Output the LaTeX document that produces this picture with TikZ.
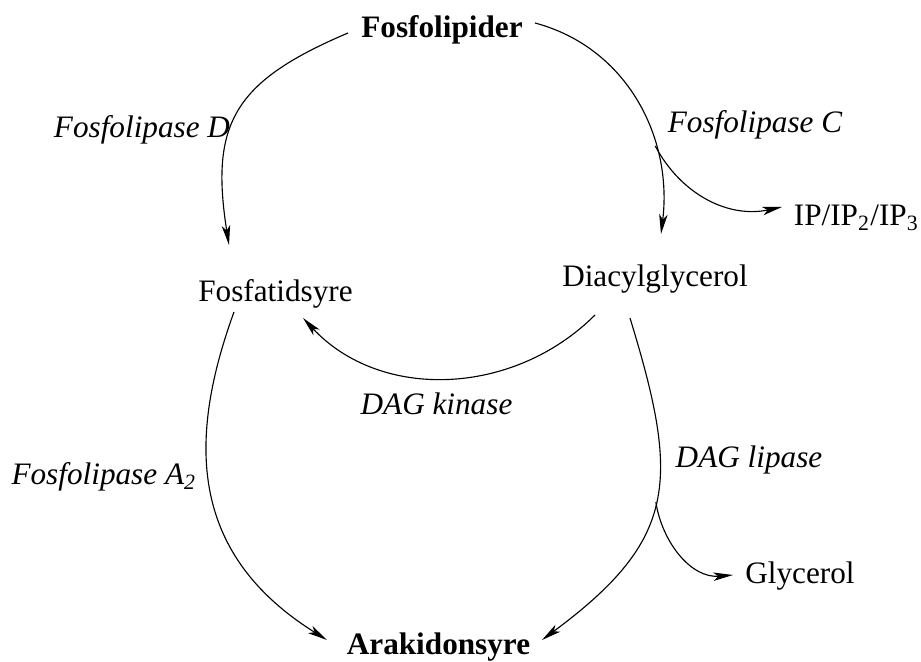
\documentclass[tikz,border=0pt]{standalone}
\usepackage{fontspec}
\setmainfont{Liberation Serif}
\usepackage{tikz}
\usetikzlibrary{arrows.meta,calc}

\begin{document}
\begin{tikzpicture}[x=0.0125cm,y=0.0125cm,>={Stealth[length=7pt,width=3pt,inset=1.8pt]},
  txt/.style={anchor=base,inner sep=0pt,font=\fontsize{11.1}{13}\selectfont},
  stoff/.style={txt,font=\fontsize{11.1}{13}\selectfont\bfseries},
  enzym/.style={txt,font=\fontsize{11.1}{13}\selectfont\itshape},
  pil/.style={->,line width=0.4pt}]
  \useasboundingbox (0,0) rectangle (921,-662);
  \node[stoff] (lipider) at (442,-38)   {Fosfolipider};
  \node[txt]   (fsyre)   at (275.5,-302) {Fosfatidsyre};
  \node[txt]   (dag)     at (655,-287)   {Diacylglycerol};
  \node[txt]   (ip)      at (856.5,-226) {IP/IP\textsubscript{2}/IP\textsubscript{3}};
  \node[txt]   (glyc)    at (800,-584)   {Glycerol};
  \node[stoff] (arak)    at (438.5,-655) {Arakidonsyre};
  \node[enzym] (plD)     at (142,-138)   {Fosfolipase D};
  \node[enzym] (plC)     at (755,-133)   {Fosfolipase C};
  \node[enzym] (kinase)  at (436.5,-415) {DAG kinase};
  \node[enzym] (plA)     at (104,-485)   {Fosfolipase A\textsubscript{2}};
  \node[enzym] (lipase)  at (749,-468)   {DAG lipase};
  \draw[pil] ($(lipider.base)+(-94,5)$) to[out=203,in=99,looseness=1.3] ($(fsyre.base)+(-46.5,57)$);
  \draw[pil] ($(lipider.base)+(93,15)$) to[out=-15,in=83] coordinate[pos=0.68] (gren1) ($(dag.base)+(6,53)$);
  \draw[pil] (gren1) to[out=-62,in=192] ($(ip.base)+(-74.5,19)$);
  \draw[pil] ($(dag.base)+(-60,-28)$) to[out=225,in=-47] ($(fsyre.base)+(27.5,-16)$);
  \draw[pil] ($(fsyre.base)+(-41.5,-10)$) to[out=250,in=148,out distance=1.75cm,in distance=2cm] ($(arak.base)+(-111.5,15)$);
  \draw[pil] ($(dag.base)+(-25,-31)$) to[out=-73,in=36.5,looseness=1.3] coordinate[pos=0.5] (gren2) ($(arak.base)+(103.5,15)$);
  \draw[pil] (gren2) to[out=-81,in=185] ($(glyc.base)+(-67,9)$);
\end{tikzpicture}
\end{document}
